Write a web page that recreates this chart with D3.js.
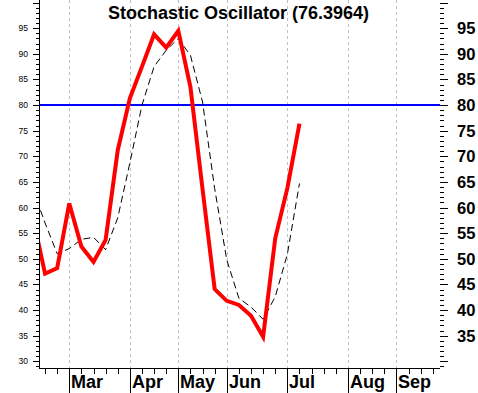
<!DOCTYPE html>
<html lang="en">

<script src="https://d3js.org/d3.v7.min.js"></script>

<head>
    <meta charset="UTF-8">
    <title>Stochastic Oscillator</title>
    <style>
        body {
            margin: 0;
            background: #ffffff;
        }
        svg {
            display: block;
            font-family: "Liberation Sans", Arial, sans-serif;
        }
    </style>
</head>
<body>

    <svg width="478" height="393"></svg>

    <script>
        // weekly %K (red) and %D (dashed) values, week 0 is mid Feb
        const kValues = [58.0, 47.1, 48.2, 60.8, 52.4, 49.4, 53.7, 71.2, 81.3, 87.5, 93.8, 91.2,
                         94.5, 83.5, 63.6, 44.1, 41.8, 41.0, 38.9, 34.8, 54.0, 63.8, 76.3964];
        const dValues = [63.5, 57.0, 51.0, 52.0, 53.8, 54.2, 51.8, 58.0, 68.7, 80.0, 87.5, 90.7,
                         93.0, 89.7, 80.6, 63.7, 49.8, 42.3, 40.6, 38.2, 42.6, 50.9, 64.7];

        // month labels and the week they start on
        const months = ["Mar", "Apr", "May", "Jun", "Jul", "Aug", "Sep"];
        const monthWeeks = [3, 8, 12, 16, 21, 26, 30];

        const leftTicks = [30, 35, 40, 45, 50, 55, 60, 65, 70, 75, 80, 85, 90, 95];
        const rightTicks = [35, 40, 45, 50, 55, 60, 65, 70, 75, 80, 85, 90, 95];
        const signalLevel = 80;

        const svg = d3.select('svg');

        // plot box
        const plotLeft = 39, plotRight = 440, plotTop = 0, plotBottom = 368;

        const x = d3.scaleLinear().domain([0.5, 33.6]).range([plotLeft, plotRight]);
        const y = d3.scaleLinear().domain([28.7, 100.5]).range([plotBottom, plotTop]);

        svg.append("defs").append("clipPath")
            .attr("id", "plotClip")
            .append("rect")
            .attr("x", plotLeft)
            .attr("y", plotTop)
            .attr("width", plotRight - plotLeft)
            .attr("height", plotBottom - plotTop);

        // month grid lines (dashed grey)
        svg.selectAll(".grid")
            .data(monthWeeks)
            .enter()
            .append("line")
            .attr("x1", d => Math.round(x(d)) + 0.5)
            .attr("x2", d => Math.round(x(d)) + 0.5)
            .attr("y1", plotTop)
            .attr("y2", plotBottom)
            .attr("stroke", "#c0c0c0")
            .attr("stroke-width", 1)
            .attr("stroke-dasharray", "3,3");

        // 80 level line
        svg.append("line")
            .attr("x1", plotLeft)
            .attr("x2", plotRight)
            .attr("y1", y(signalLevel))
            .attr("y2", y(signalLevel))
            .attr("stroke", "#0000ff")
            .attr("stroke-width", 2);

        const plot = svg.append("g").attr("clip-path", "url(#plotClip)");

        // %D dashed line
        const lineD = d3.line()
            .x((d, i) => x(i))
            .y(d => y(d));
        plot.append("path")
            .attr("d", lineD(dValues))
            .attr("fill", "none")
            .attr("stroke", "#000000")
            .attr("stroke-width", 1)
            .attr("stroke-dasharray", "7,4");

        // %K red line
        const lineK = d3.line()
            .x((d, i) => x(i))
            .y(d => y(d));
        plot.append("path")
            .attr("d", lineK(kValues))
            .attr("fill", "none")
            .attr("stroke", "#ff0000")
            .attr("stroke-width", 4);

        // left axis
        svg.append("line")
            .attr("x1", plotLeft + 0.5)
            .attr("x2", plotLeft + 0.5)
            .attr("y1", plotTop)
            .attr("y2", plotBottom)
            .attr("stroke", "#000")
            .attr("stroke-width", 1);

        const minorVals = d3.range(29, 101);
        svg.selectAll(".ltick")
            .data(minorVals)
            .enter()
            .append("line")
            .attr("x1", d => d % 5 === 0 ? plotLeft - 6 : plotLeft - 3)
            .attr("x2", plotLeft)
            .attr("y1", d => Math.round(y(d)) + 0.5)
            .attr("y2", d => Math.round(y(d)) + 0.5)
            .attr("stroke", "#000");

        svg.selectAll(".llabel")
            .data(leftTicks)
            .enter()
            .append("text")
            .attr("x", 28)
            .attr("y", d => y(d) + 3)
            .attr("text-anchor", "end")
            .attr("font-size", "8.5px")
            .text(d => d);

        // right axis ticks
        svg.selectAll(".rtick")
            .data(minorVals)
            .enter()
            .append("line")
            .attr("x1", plotRight)
            .attr("x2", d => d % 5 === 0 ? plotRight + 8 : plotRight + 4)
            .attr("y1", d => Math.round(y(d)) + 0.5)
            .attr("y2", d => Math.round(y(d)) + 0.5)
            .attr("stroke", "#000");

        svg.selectAll(".rlabel")
            .data(rightTicks)
            .enter()
            .append("text")
            .attr("x", 457)
            .attr("y", d => y(d) + 6)
            .attr("font-size", "16.5px")
            .attr("font-weight", "bold")
            .text(d => d);

        // bottom axis
        svg.append("line")
            .attr("x1", plotLeft)
            .attr("x2", plotRight)
            .attr("y1", plotBottom + 0.5)
            .attr("y2", plotBottom + 0.5)
            .attr("stroke", "#000");

        const weeks = d3.range(1, 34).filter(w => !monthWeeks.includes(w));
        svg.selectAll(".wtick")
            .data(weeks)
            .enter()
            .append("line")
            .attr("x1", d => Math.round(x(d)) + 0.5)
            .attr("x2", d => Math.round(x(d)) + 0.5)
            .attr("y1", plotBottom)
            .attr("y2", plotBottom + 6)
            .attr("stroke", "#000");

        svg.selectAll(".mtick")
            .data(monthWeeks)
            .enter()
            .append("line")
            .attr("x1", d => Math.round(x(d)) + 0.5)
            .attr("x2", d => Math.round(x(d)) + 0.5)
            .attr("y1", plotBottom)
            .attr("y2", 393)
            .attr("stroke", "#000");

        svg.selectAll(".mlabel")
            .data(months)
            .enter()
            .append("text")
            .attr("x", (d, i) => Math.round(x(monthWeeks[i])) + 2)
            .attr("y", 388)
            .attr("font-size", "18px")
            .attr("font-weight", "bold")
            .text(d => d);

        // title
        svg.append("text")
            .attr("x", 238.5)
            .attr("y", 19)
            .attr("text-anchor", "middle")
            .attr("font-size", "18px")
            .attr("font-weight", "bold")
            .text("Stochastic Oscillator (" + kValues[kValues.length - 1] + ")");
    </script>
</body>
</html>
